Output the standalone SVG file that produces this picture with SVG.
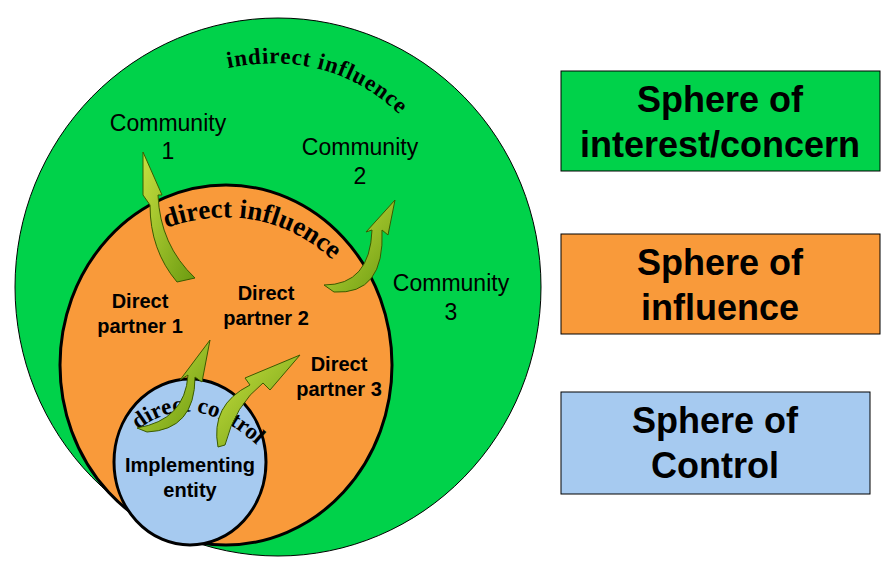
<svg xmlns="http://www.w3.org/2000/svg" width="894" height="587" viewBox="0 0 894 587">
<style>
.lbl{font-family:"Liberation Sans",Arial,sans-serif;font-size:23px;fill:#000}
.b{font-family:"Liberation Sans",Arial,sans-serif;font-size:20px;font-weight:bold;fill:#000}
.cur{font-family:"Liberation Serif","Times New Roman",serif;fill:#000;font-weight:bold}
.box{font-family:"Liberation Sans",Arial,sans-serif;font-size:36px;font-weight:bold;fill:#000}
.arr{fill:url(#g);stroke:#3a5a00;stroke-width:1}
</style>
<defs>
<linearGradient id="g" x1="0" y1="0" x2="1" y2="1"><stop offset="0" stop-color="#c8e040"/><stop offset="1" stop-color="#6a9a10"/></linearGradient>
<path id="p1" d="M 228 68 Q 330 48 400 115"/>
<path id="p2" d="M 166 228 Q 265 195 338 265"/>
<path id="p3" d="M 138 430 Q 195 385 262 450"/>
</defs>
<rect width="894" height="587" fill="#fff"/>
<g id="interest"><ellipse cx="278" cy="287" rx="263" ry="269" fill="#00d24a" stroke="#000" stroke-width="1"/>
<text class="cur" font-size="23" textLength="185"><textPath href="#p1">indirect  influence</textPath></text></g>
<g id="influence"><ellipse cx="226" cy="365" rx="166" ry="180" fill="#f99a3a" stroke="#000" stroke-width="3"/>
<text class="cur" font-size="27"><textPath href="#p2">direct influence</textPath></text></g>
<g id="control"><ellipse cx="190" cy="462" rx="76" ry="83" fill="#a6caf0" stroke="#000" stroke-width="3"/>
<text class="cur" font-size="23"><textPath href="#p3">direct control</textPath></text></g>
<g id="labels">
<text class="lbl" text-anchor="middle" x="168" y="131">Community</text><text class="lbl" text-anchor="middle" x="168" y="159">1</text>
<text class="lbl" text-anchor="middle" x="360" y="155">Community</text><text class="lbl" text-anchor="middle" x="360" y="184">2</text>
<text class="lbl" text-anchor="middle" x="451" y="291">Community</text><text class="lbl" text-anchor="middle" x="451" y="320">3</text>
<text class="b" text-anchor="middle" x="140" y="308">Direct</text><text class="b" text-anchor="middle" x="140" y="333">partner 1</text>
<text class="b" text-anchor="middle" x="266" y="300">Direct</text><text class="b" text-anchor="middle" x="266" y="325">partner 2</text>
<text class="b" text-anchor="middle" x="339" y="371">Direct</text><text class="b" text-anchor="middle" x="339" y="396">partner 3</text>
<text class="b" text-anchor="middle" x="190" y="472">Implementing</text><text class="b" text-anchor="middle" x="190" y="497">entity</text>
</g>
<g id="connectors">
<path class="arr" d="M 177 282 Q 150 250 150 205 L 143 195 L 143 152 L 162 195 L 158 195 Q 160 245 195 278 Z"/>
<path class="arr" d="M 324 285 Q 370 285 372 230 L 366 232 L 395 200 L 388 235 L 382 230 Q 385 295 334 292 Z"/>
<path class="arr" d="M 137 428 Q 185 420 188 375 L 180 380 L 210 340 L 202 382 L 195 377 Q 195 430 147 432 Z"/>
<path class="arr" d="M 218 447 Q 210 405 250 385 L 245 378 L 300 355 L 270 390 L 263 383 Q 235 405 225 445 Z"/>
</g>
<g id="legend">
<rect x="561" y="71" width="319" height="100" fill="#00d24a" stroke="#000"/>
<text class="box" text-anchor="middle" x="720" y="112">Sphere of</text><text class="box" text-anchor="middle" x="720" y="157">interest/concern</text>
<rect x="561" y="234" width="319" height="100" fill="#f99a3a" stroke="#000"/>
<text class="box" text-anchor="middle" x="720" y="275">Sphere of</text><text class="box" text-anchor="middle" x="720" y="320">influence</text>
<rect x="561" y="392" width="309" height="102" fill="#a6caf0" stroke="#000"/>
<text class="box" text-anchor="middle" x="715" y="433">Sphere of</text><text class="box" text-anchor="middle" x="715" y="478">Control</text>
</g>
</svg>
